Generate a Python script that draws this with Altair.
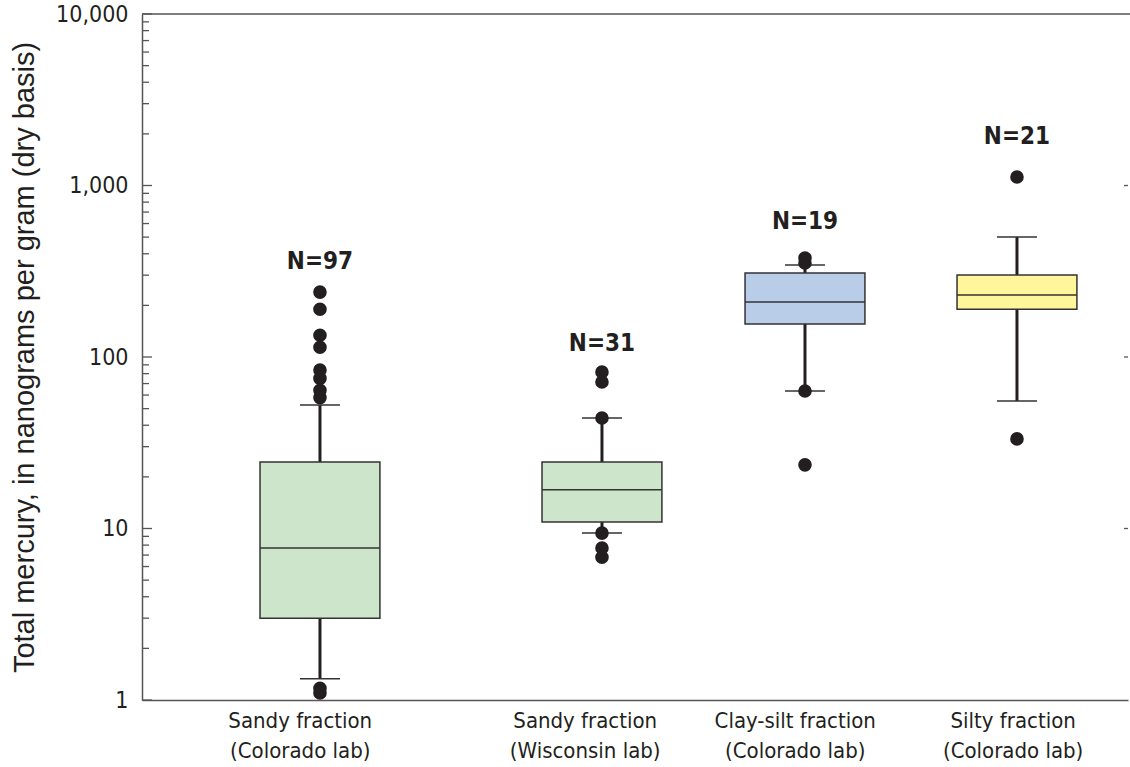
import altair as alt
import pandas as pd

# Four sample groups of total mercury concentrations (ng/g, dry basis)
LABEL_LINE1 = ["Sandy fraction", "Sandy fraction", "Clay-silt fraction", "Silty fraction"]
LABEL_LINE2 = ["(Colorado lab)", "(Wisconsin lab)", "(Colorado lab)", "(Colorado lab)"]
N_COUNTS = [97, 31, 19, 21]

# Horizontal placement of each group (0-100 across the plot) and of its axis label
BOX_POS = [18.05, 46.65, 67.24, 88.74]
LABEL_POS = [16.0, 44.9, 66.2, 88.3]

# Box-plot statistics
WHISKER_LOW = [1.33, 9.4, 63.4, 55.4]
Q1 = [3.0, 10.9, 156, 190]
MEDIAN = [7.7, 16.8, 209, 230]
Q3 = [24.4, 24.4, 309, 301]
WHISKER_HIGH = [52.5, 44.1, 344, 501]
FILLS = ["#cde6cb", "#cde6cb", "#b9cde9", "#fff59b"]

# Individually plotted values beyond / at the whisker ends
OUTLIERS = [
    [239, 190, 134, 114, 84, 75, 64, 58, 1.17, 1.10],
    [81.8, 71.5, 44.1, 9.4, 7.7, 6.8],
    [378, 353, 63.4, 23.5],
    [1121, 33.3],
]

# Height at which the sample count is written above each group
N_LABEL_AT = [358, 119, 613, 1918]

MAJOR_TICKS = [1, 10, 100, 1000, 10000]
MINOR_TICKS = [m * d for d in [1, 10, 100, 1000] for m in range(2, 10)]
RIGHT_TICKS = [10, 100, 1000]

W, H = 986, 686
BOX_HALF = 6.08
CAP_HALF = 2.03
INK = "#231f20"
NARROW = "Liberation Sans Narrow, DejaVu Sans Condensed, sans-serif"

boxes = pd.DataFrame({
    "pos": BOX_POS, "lo": WHISKER_LOW, "q1": Q1, "med": MEDIAN,
    "q3": Q3, "hi": WHISKER_HIGH, "fill": FILLS,
    "n": [f"N={n}" for n in N_COUNTS], "label_at": N_LABEL_AT,
})
outliers = pd.DataFrame(
    [{"pos": BOX_POS[i], "value": v} for i, vals in enumerate(OUTLIERS) for v in vals]
)

label_expr = (
    "[" + ",".join(f"['{a}','{b}']" for a, b in zip(LABEL_LINE1, LABEL_LINE2)) + "]"
    "[indexof([" + ",".join(str(p) for p in LABEL_POS) + "], datum.value)]"
)

xscale = alt.Scale(domain=[0, 100], nice=False, zero=False)
yscale = alt.Scale(type="log", domain=[1, 10000], nice=False)

x_axis = alt.Axis(
    values=LABEL_POS, labelExpr=label_expr, ticks=False, grid=False,
    domain=True, domainColor="#555555", domainWidth=1.5,
    labelFont=NARROW, labelFontSize=22, labelColor=INK, labelPadding=10,
    labelBaseline="top", labelLineHeight=30, labelOverlap=False,
    labelFlush=False, labelBound=False, title=None,
)
y_axis = alt.Axis(
    values=MAJOR_TICKS, format=",", ticks=False, grid=False,
    domain=True, domainColor="#555555", domainWidth=1.5,
    labelFont=NARROW, labelFontSize=23, labelColor=INK, labelPadding=14,
    labelFlush=False, labelBound=False,
    title="Total mercury, in nanograms per gram (dry basis)",
    titleFont="Liberation Sans", titleFontSize=29, titleFontWeight="normal",
    titleColor=INK, titlePadding=16,
)

base = alt.Chart(boxes)

whisk_up = base.mark_rule(color=INK, strokeWidth=3).encode(
    x=alt.X("pos:Q", scale=xscale, axis=x_axis),
    y=alt.Y("q3:Q", scale=yscale, axis=y_axis),
    y2="hi:Q",
)
whisk_lo = base.mark_rule(color=INK, strokeWidth=3).encode(
    x="pos:Q", y="lo:Q", y2="q1:Q"
)
box = base.transform_calculate(
    xa=f"datum.pos - {BOX_HALF}", xb=f"datum.pos + {BOX_HALF}"
).mark_rect(stroke="#333333", strokeWidth=1.5).encode(
    x="xa:Q", x2="xb:Q", y="q1:Q", y2="q3:Q",
    fill=alt.Fill("fill:N", scale=None),
)
median = base.transform_calculate(
    xa=f"datum.pos - {BOX_HALF}", xb=f"datum.pos + {BOX_HALF}"
).mark_rule(color="#333333", strokeWidth=1.5).encode(
    x="xa:Q", x2="xb:Q", y="med:Q"
)
cap_hi = base.transform_calculate(
    xa=f"datum.pos - {CAP_HALF}", xb=f"datum.pos + {CAP_HALF}"
).mark_rule(color="#333333", strokeWidth=1.5).encode(
    x="xa:Q", x2="xb:Q", y="hi:Q"
)
cap_lo = base.transform_calculate(
    xa=f"datum.pos - {CAP_HALF}", xb=f"datum.pos + {CAP_HALF}"
).mark_rule(color="#333333", strokeWidth=1.5).encode(
    x="xa:Q", x2="xb:Q", y="lo:Q"
)
points = alt.Chart(outliers).mark_circle(size=185, color=INK, opacity=1).encode(
    x="pos:Q", y="value:Q"
)
counts = base.mark_text(
    font=NARROW, fontSize=24, fontWeight="bold", color=INK, baseline="middle"
).encode(x="pos:Q", y="label_at:Q", text="n:N")

# Frame line along the top of the plot
top_line = alt.Chart(pd.DataFrame({"v": [10000]})).mark_rule(
    color="#555555", strokeWidth=1.5
).encode(y="v:Q", x=alt.value(0), x2=alt.value(W + 2))

# Inward-pointing tick marks on the left and right edges
major = alt.Chart(pd.DataFrame({"v": MAJOR_TICKS})).mark_rule(
    color="#555555", strokeWidth=1.3
).encode(y="v:Q", x=alt.value(0), x2=alt.value(10))
minor = alt.Chart(pd.DataFrame({"v": MINOR_TICKS})).mark_rule(
    color="#555555", strokeWidth=1.3
).encode(y="v:Q", x=alt.value(0), x2=alt.value(7))
right = alt.Chart(pd.DataFrame({"v": RIGHT_TICKS})).mark_rule(
    color="#555555", strokeWidth=1.3
).encode(y="v:Q", x=alt.value(W - 4), x2=alt.value(W))

chart = alt.layer(
    whisk_up, whisk_lo, box, median, cap_hi, cap_lo, points, counts,
    top_line, major, minor, right,
).properties(
    width=W, height=H,
    autosize=alt.AutoSizeParams(type="none"),
    padding={"left": 142, "top": 14, "right": 2, "bottom": 67},
    background="white",
).configure_view(stroke=None)

chart.save("out.html", embed_options={"renderer": "svg", "actions": False})
